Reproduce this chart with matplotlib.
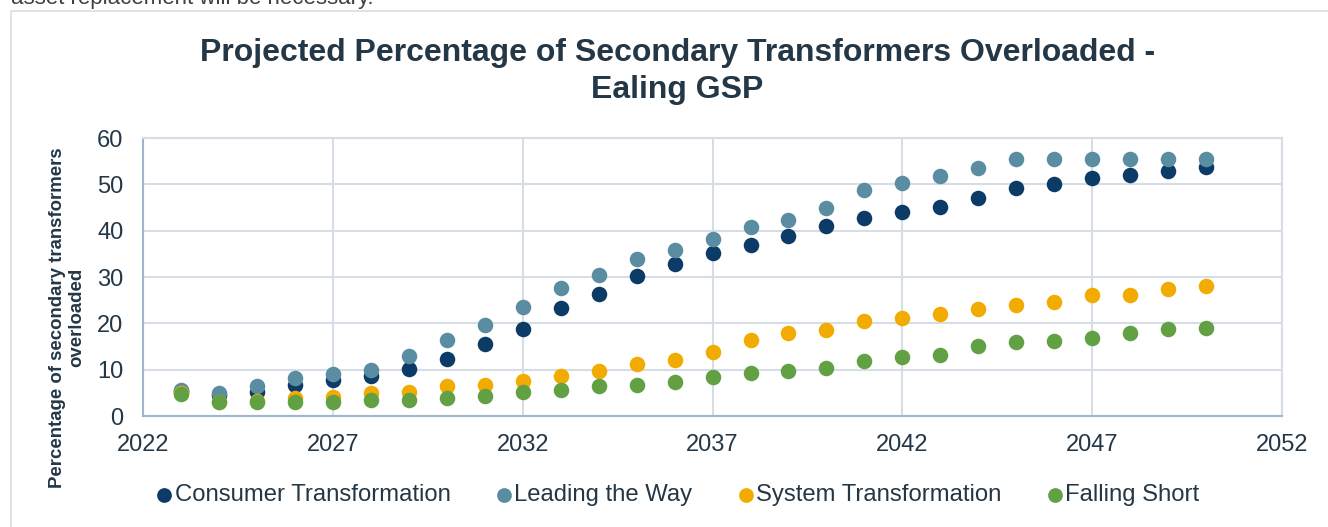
import matplotlib.pyplot as plt
from matplotlib.patches import Rectangle

years = list(range(2023, 2051))

consumer_transformation = [5.5, 4.5, 5.2, 6.7, 7.8, 8.7, 10.2, 12.2, 15.5, 18.7,
                           23.4, 26.4, 30.3, 32.9, 35.2, 37.0, 38.8, 41.1, 42.8, 44.1,
                           45.2, 47.0, 49.2, 50.0, 51.3, 52.0, 52.9, 53.7]
leading_the_way = [5.7, 4.9, 6.5, 8.1, 9.0, 10.0, 13.0, 16.5, 19.7, 23.5,
                   27.7, 30.4, 33.8, 35.9, 38.3, 40.8, 42.4, 44.9, 48.8, 50.3,
                   51.8, 53.6, 55.4, 55.4, 55.4, 55.4, 55.4, 55.4]
system_transformation = [4.9, 3.1, 3.3, 3.8, 4.2, 4.9, 5.2, 6.5, 6.7, 7.6,
                         8.6, 9.8, 11.2, 12.1, 13.9, 16.4, 17.9, 18.5, 20.4, 21.2,
                         22.0, 23.2, 24.0, 24.6, 26.1, 26.2, 27.5, 28.1]
falling_short = [4.7, 3.1, 3.1, 3.1, 3.1, 3.4, 3.4, 3.9, 4.3, 5.2,
                 5.7, 6.5, 6.7, 7.4, 8.5, 9.3, 9.8, 10.4, 11.8, 12.7,
                 13.2, 15.1, 15.9, 16.1, 16.9, 17.9, 18.7, 19.1]

series = [
    ('Consumer Transformation', consumer_transformation, '#0b3b66'),
    ('Leading the Way', leading_the_way, '#5a8da2'),
    ('System Transformation', system_transformation, '#f2ab00'),
    ('Falling Short', falling_short, '#62a044'),
]

x_ticks = [2022, 2027, 2032, 2037, 2042, 2047, 2052]
y_ticks = [0, 10, 20, 30, 40, 50, 60]

plt.rcParams['font.family'] = ['Liberation Sans', 'DejaVu Sans']
text_col = '#243746'

fig = plt.figure(figsize=(13.28, 5.27), dpi=100)
ax = fig.add_axes([0.1077, 0.2106, 0.8577, 0.5275])

# outer chart frame and the clipped text line above it
fig.patches.append(Rectangle((11 / 1328, -0.1), 1.2, 1 - 11 / 527 + 0.1,
                             transform=fig.transFigure, fill=False,
                             edgecolor='#d9dde2', linewidth=1.2))
fig.text(0.008, 1.0 + 0.022, 'asset replacement will be necessary.', fontsize=16,
         color='#404040', va='top', ha='left')

for name, vals, col in series:
    ax.scatter(years, vals, s=125, color=col, label=name, zorder=3, linewidths=0)

ax.set_xlim(2022, 2052)
ax.set_ylim(0, 60)
ax.set_xticks(x_ticks)
ax.set_yticks(y_ticks)
ax.grid(True, color='#d6dde6', linewidth=1.5, zorder=0)
ax.tick_params(length=0, labelsize=17, colors=text_col)
ax.tick_params(axis='x', pad=13)
ax.tick_params(axis='y', pad=14)
for s in ['top', 'right']:
    ax.spines[s].set_color('#d6dde6')
    ax.spines[s].set_linewidth(1.5)
for s in ['left', 'bottom']:
    ax.spines[s].set_color('#9fb6cc')
    ax.spines[s].set_linewidth(1.5)

# axis title sits lower than the plot centre, as in the original
fig.text(0.0505, 0.398, 'Percentage of secondary transformers\noverloaded', fontsize=13.4,
         fontweight='bold', color=text_col, rotation=90, ha='center', va='center',
         multialignment='center', linespacing=1.15)

fig.text(0.51, 0.864, 'Projected Percentage of Secondary Transformers Overloaded -\nEaling GSP',
         ha='center', va='center', fontsize=23, fontweight='bold', color=text_col,
         linespacing=1.3)

leg = fig.legend(loc='center', bbox_to_anchor=(0.5045, 0.061), ncol=4, frameon=False,
                 fontsize=17.2, handletextpad=-0.58, columnspacing=1.25, markerscale=0.95)
for t in leg.get_texts():
    t.set_color(text_col)

plt.savefig('out.png', dpi=100)
